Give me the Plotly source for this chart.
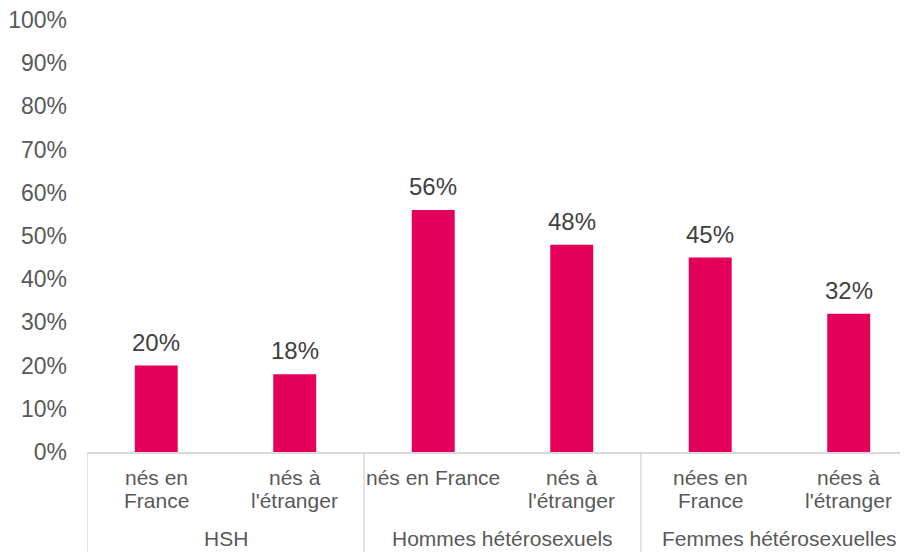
import plotly.graph_objects as go

# data
groupes = ['HSH', 'Hommes hétérosexuels', 'Femmes hétérosexuelles']
sous_cat = ['nés en<br>France', 'nés à<br>l\'étranger',
            'nés en France', 'nés à<br>l\'étranger',
            'nées en<br>France', 'nées à<br>l\'étranger']
valeurs = [0.20, 0.18, 0.56, 0.48, 0.45, 0.32]
etiquettes = ['20%', '18%', '56%', '48%', '45%', '32%']

rouge = '#E4005A'
gris = '#595959'
trait = '#D9D9D9'
police = 'Liberation Sans, Arial, sans-serif'

xs = list(range(len(valeurs)))

fig = go.Figure()
fig.add_trace(go.Bar(
    x=xs, y=valeurs, width=0.31,
    marker=dict(color=rouge, line=dict(width=0)),
    hoverinfo='skip'
))

annots = []
# data labels above bars
for i, (v, t) in enumerate(zip(valeurs, etiquettes)):
    annots.append(dict(x=i, y=v, xref='x', yref='y', text=t, showarrow=False,
                       yanchor='bottom', yshift=8,
                       font=dict(family=police, size=24, color='#404040')))
# sub-category labels, one annotation per line to keep tight spacing
for i, lab in enumerate(sous_cat):
    lignes = lab.split('<br>')
    for k, ligne in enumerate(lignes):
        annots.append(dict(x=i, y=0, xref='x', yref='paper', text=ligne,
                           showarrow=False, yanchor='middle', yshift=-25 - 23 * k,
                           font=dict(family=police, size=21, color=gris)))
# group labels + separators
shapes = []
for g, nom in enumerate(groupes):
    annots.append(dict(x=2 * g + 0.5, y=0, xref='x', yref='paper', text=nom,
                       showarrow=False, yanchor='middle', yshift=-86,
                       font=dict(family=police, size=21, color=gris)))
    shapes.append(dict(type='line', xref='x', yref='paper',
                       x0=2 * g - 0.5, x1=2 * g - 0.5, y0=0, y1=-0.25,
                       line=dict(color=trait, width=1.5)))

# page has an 8px body margin, so the figure is 900x544
fig.update_layout(
    width=900, height=544,
    margin=dict(l=79, r=0, t=12, b=100),
    paper_bgcolor='white', plot_bgcolor='white',
    showlegend=False,
    annotations=annots, shapes=shapes,
    xaxis=dict(range=[-0.5, 5.428], showticklabels=False, showgrid=False,
               zeroline=False, showline=True, linecolor=trait, linewidth=1.5,
               fixedrange=True, automargin=False),
    yaxis=dict(range=[0, 1], tickvals=[i / 10 for i in range(11)],
               tickformat='.0%', showgrid=False, zeroline=False,
               showline=False, ticklabelstandoff=19, automargin=False,
               ticklabeloverflow='allow',
               tickfont=dict(family=police, size=23, color=gris),
               fixedrange=True),
)

fig.write_html('out.html')
